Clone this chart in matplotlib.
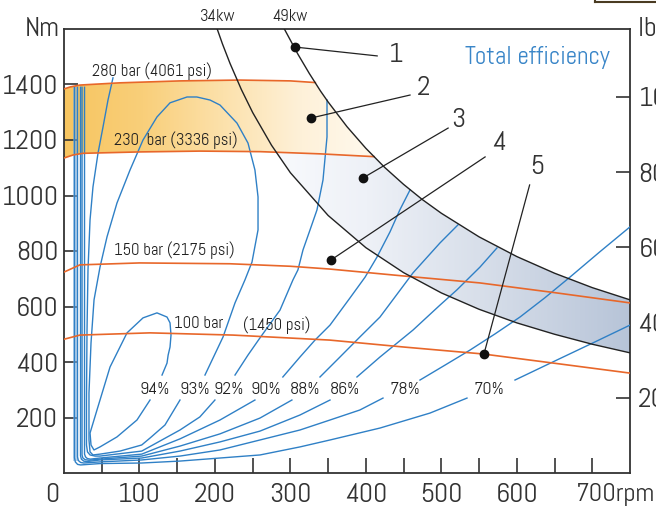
import numpy as np
import matplotlib
matplotlib.use("Agg")
import matplotlib.pyplot as plt
from matplotlib.colors import LinearSegmentedColormap
from matplotlib.lines import Line2D

plt.rcParams['font.family'] = ['Abel', 'Roboto Condensed', 'DejaVu Sans']

# pressure lines (rpm, Nm)
bar280 = [(0, 1384), (8, 1391), (21, 1398), (74, 1406), (154, 1413), (233, 1416), (300, 1413), (333, 1407)]
bar230 = [(0, 1135), (12, 1146), (25, 1152), (100, 1157), (180, 1160), (260, 1158), (340, 1150), (411, 1140)]
bar150 = [(0, 724), (21, 750), (100, 757), (220, 754), (300, 745), (352, 735), (450, 710), (551, 685), (650, 650), (750, 613)]
bar100 = [(0, 482), (21, 497), (114, 505), (224, 497), (352, 479), (450, 454), (555, 429), (657, 393), (750, 360)]

# constant power curves
kw34_rpm = [203, 210, 220, 235, 250, 275, 300, 350, 400, 450, 500, 550, 600, 650, 700, 750]
kw34_nm = [1600, 1546, 1476, 1382, 1299, 1181, 1082, 928, 812, 722, 649, 590, 541, 500, 464, 433]
kw49_rpm = [292, 310, 325, 340, 350, 375, 400, 425, 450, 475, 500, 550, 600, 650, 700, 750]
kw49_nm = [1600, 1509, 1440, 1376, 1337, 1248, 1170, 1101, 1040, 985, 936, 851, 780, 720, 668, 624]

# total efficiency contours (rpm, Nm); the label splits each line in two parts
eff94 = [(114, 263), (96.7, 191), (70.2, 130), (47.7, 94), (39.7, 83), (35.8, 101), (34.5, 144),
         (43.7, 227), (61, 382), (83.5, 505), (104.7, 559), (123.2, 577), (136.5, 562),
         (140.5, 541), (141.8, 497), (140.5, 454), (138, 425), (136.5, 396), (129.9, 353)]
eff93 = [(153.7, 263), (133.8, 173), (114, 126), (103, 101), (74.2, 79), (47.7, 68), (38.4, 65),
         (34.5, 76), (33.1, 119), (33.1, 288), (35.8, 469), (39.8, 624), (47.7, 742), (57, 851),
         (70.2, 973), (87.5, 1092), (104.7, 1200), (123.2, 1283), (140.5, 1334), (163, 1355),
         (176, 1355), (193.5, 1344), (206.7, 1326), (229.2, 1261), (243.8, 1189), (253, 1092),
         (257.1, 995), (257.1, 876), (249.1, 760), (239.8, 696), (226.6, 613), (210.7, 490), (186.8, 353)]
eff92_low = [(64.9, 1424), (58.3, 1344), (51.7, 1247), (45.1, 1153), (38.4, 1031), (34.5, 912),
             (31.8, 732), (30.5, 515), (29.8, 263), (29.8, 101), (31.1, 76), (34.5, 65), (41.1, 61),
             (47.7, 61), (103, 79), (153.7, 155), (180, 202), (200, 263)]
eff92_up = [(226.6, 353), (243.8, 425), (259.7, 487), (286.2, 587), (303.4, 696), (310, 732),
            (316.7, 804), (326, 876), (335.2, 948), (343.2, 1056), (348.5, 1211), (348.5, 1344)]
eff90_low = [(27.2, 1390), (27.2, 68), (28.5, 58), (31, 52), (35, 50), (47.7, 54), (103, 68),
             (153.7, 123), (206.7, 191), (253, 263)]
eff90_up = [(290, 346), (312.7, 418), (332.6, 479), (352.5, 533), (379, 631), (399, 706),
            (414.7, 778), (432, 869), (445, 948), (458.5, 1020)]
eff88_low = [(23.9, 1390), (23.9, 65), (25, 54), (28, 48), (33, 46), (47.7, 50), (103, 61),
             (153.7, 97), (206.7, 141), (259.7, 198), (302, 263)]
eff88_up = [(339.2, 346), (365.7, 418), (392, 490), (418.7, 562), (462.4, 721), (498.2, 829), (522, 894)]
eff86_low = [(21.9, 1390), (21.9, 62), (23, 50), (26, 43), (30, 41), (47.7, 47), (103, 54),
             (153.7, 79), (206.7, 112), (259.7, 151), (312.7, 209), (352.5, 263)]
eff86_up = [(388.2, 346), (418.7, 418), (462.4, 515), (498.2, 605), (520.7, 660), (551.2, 742), (573.7, 811)]
eff78_low = [(17.9, 1390), (17.9, 58), (19, 45), (22, 38), (26, 36), (47.7, 40), (103, 47),
             (153.7, 61), (206.7, 83), (259.7, 119), (312.7, 155), (352.5, 191), (392, 227), (422.7, 270)]
eff78_up = [(471.7, 335), (505, 389), (538, 443), (571, 501), (604.2, 562), (637, 631),
            (670.5, 706), (710, 797), (750, 887)]
eff70_low = [(13.9, 1390), (13.9, 55), (15, 40), (18, 31), (22, 29), (47.7, 34), (103, 36),
             (153.7, 43), (206.7, 54), (259.7, 65), (312.7, 94), (352.5, 119), (418.7, 162),
             (485, 216), (534, 270)]
eff70_up = [(597.6, 335), (653, 407), (701, 469), (750, 533)]

pct_labels = ["94%", "93%", "92%", "90%", "88%", "86%", "78%", "70%"]
pct_rpm = [120.6, 173.6, 218.6, 267.7, 319, 372, 452, 563]
pct_nm = 300

bar_labels = ["280 bar (4061 psi)", "230  bar (3336 psi)", "150 bar (2175 psi)", "100 bar", "(1450 psi)"]
bar_label_xy = [(117, 1449), (148, 1200), (146, 804), (178, 537), (282, 533)]

callout_nums = ["1", "2", "3", "4", "5"]
callout_dot = [(306, 1535), (327, 1279), (396, 1063), (354, 768), (556.5, 429)]
callout_end = [(415, 1503), (458.5, 1362), (509, 1243), (558, 1139), (617, 1038)]
callout_txt = [(440, 1506), (476, 1388), (523, 1272), (576, 1189), (627, 1103)]

y_ticks = [200, 400, 600, 800, 1000, 1200, 1400]
lbft_ticks = [200, 400, 600, 800, 1000]
NM_TO_LBFT = 0.7376

BLUE = '#2f80c6'
ORANGE = '#e8672a'
INK = '#333333'


def xy(points):
    a = np.array(points, float)
    return a[:, 0], a[:, 1]


fig = plt.figure(figsize=(6.56, 5.08), dpi=100)
ax = fig.add_axes([64 / 656, 35 / 508, 566 / 656, 444 / 508])

# orange band between 280 and 230 bar, cut by the 49 kW curve
xs = np.linspace(0, 420, 400)
top = np.minimum(np.interp(xs, *xy(bar280)), np.interp(xs, kw49_rpm, kw49_nm, left=5000))
bot = np.interp(xs, *xy(bar230))
band = ax.fill_between(xs, bot, top, where=top >= bot, interpolate=True,
                       facecolor='none', edgecolor='none')
orange_cmap = LinearSegmentedColormap.from_list(
    'o', [(0, '#f7c560'), (0.25, '#f9cf7a'), (0.5, '#fce1ab'), (0.75, '#fef1d9'), (1, '#fffaf0')])
im = ax.imshow(np.linspace(0, 1, 256).reshape(1, -1), extent=[0, 420, 1100, 1450],
               aspect='auto', cmap=orange_cmap, origin='lower', zorder=1)
im.set_clip_path(band.get_paths()[0], transform=ax.transData)

# blue band between the two power curves, below 230 bar
xs2 = np.linspace(250, 750, 500)
top2 = np.minimum(np.interp(xs2, kw49_rpm, kw49_nm), np.interp(xs2, *xy(bar230)))
bot2 = np.interp(xs2, kw34_rpm, kw34_nm)
band2 = ax.fill_between(xs2, bot2, top2, where=top2 >= bot2, interpolate=True,
                        facecolor='none', edgecolor='none')
blue_cmap = LinearSegmentedColormap.from_list(
    'b', [(0, '#fbfcfe'), (0.3, '#eef1f7'), (0.6, '#d8dfea'), (1, '#b7c4d8')])
im2 = ax.imshow(np.linspace(0, 1, 256).reshape(1, -1), extent=[250, 750, 380, 1200],
                aspect='auto', cmap=blue_cmap, origin='lower', zorder=1)
im2.set_clip_path(band2.get_paths()[0], transform=ax.transData)

# light blue bundle at the left
ax.fill_betweenx([45, 1390], 12.0, 18.5, color='#7fb0de', alpha=0.55, lw=0, zorder=2)

# efficiency lines
for seg in [eff94, eff93, eff92_low, eff92_up, eff90_low, eff90_up, eff88_low, eff88_up,
            eff86_low, eff86_up, eff78_low, eff78_up, eff70_low, eff70_up]:
    ax.plot(*xy(seg), color=BLUE, lw=1.0, zorder=3, solid_joinstyle='round')

# pressure lines
for seg in [bar280, bar230, bar150, bar100]:
    ax.plot(*xy(seg), color=ORANGE, lw=1.2, zorder=4)

# power curves
ax.plot(kw34_rpm, kw34_nm, color='#222222', lw=1.0, zorder=5)
ax.plot(kw49_rpm, kw49_nm, color='#222222', lw=1.0, zorder=5)
kx = ax.get_xaxis_transform()
ax.text(203, 1.028, '34kw', transform=kx, ha='center', va='center', fontsize=12, color='#222222')
ax.text(299, 1.028, '49kw', transform=kx, ha='center', va='center', fontsize=12, color='#222222')

# labels
for lab, r in zip(pct_labels, pct_rpm):
    ax.text(r, pct_nm, lab, ha='center', va='center', fontsize=13, color='#222222', zorder=6)
for lab, (r, t) in zip(bar_labels, bar_label_xy):
    ax.text(r, t, lab, ha='center', va='center', fontsize=12, color='#222222', zorder=6)

# callouts
for n, d, e, t in zip(callout_nums, callout_dot, callout_end, callout_txt):
    ax.plot([d[0], e[0]], [d[1], e[1]], color='#222222', lw=0.9, zorder=7)
    ax.plot(*d, 'o', color='#111111', ms=6, zorder=8)
    ax.text(*t, n, ha='center', va='center', fontsize=20, color='#333333', zorder=8)

ax.text(627, 1499, 'Total efficiency', ha='center', va='center', fontsize=18, color='#3a86c8')

# axes
ax.set_xlim(0, 750)
ax.set_ylim(0, 1600)
for s in ax.spines.values():
    s.set_color(INK)
    s.set_linewidth(1.3)

ax.set_yticks(y_ticks)
ax.set_yticklabels([str(v) for v in y_ticks])
ax.tick_params(axis='y', direction='in', length=10, width=1.2, colors=INK, labelsize=20, pad=4)

xt = list(range(50, 750, 50))
ax.set_xticks(xt)
ax.set_xticklabels([str(v) if v % 100 == 0 and v < 700 else '' for v in xt])
ax.tick_params(axis='x', direction='in', length=11, width=1.2, colors=INK, labelsize=20, pad=7)
ax.text(-15, -0.022, '0', transform=kx, ha='center', va='top', fontsize=20, color=INK)
ax.text(678, -0.022, '700rpm', transform=kx, ha='left', va='top', fontsize=19, color=INK)

ax.text(-0.007, 1.0, 'Nm', transform=ax.transAxes, ha='right', va='center', fontsize=20, color=INK)
ax.text(1.014, 1.0, 'lbf ft', transform=ax.transAxes, ha='left', va='center', fontsize=20, color=INK)

sec = ax.secondary_yaxis('right', functions=(lambda t: t * NM_TO_LBFT, lambda v: v / NM_TO_LBFT))
sec.set_yticks(lbft_ticks)
sec.tick_params(direction='in', length=10, width=1.2, colors=INK, labelsize=20, pad=6)
sec.spines['right'].set_visible(False)

# frame of the box above the picture, top right
fig.add_artist(Line2D([595 / 656, 1], [1 - 1.5 / 508] * 2, transform=fig.transFigure, color='#4a3b22', lw=1.5))
fig.add_artist(Line2D([595 / 656] * 2, [1 - 1.5 / 508, 1], transform=fig.transFigure, color='#4a3b22', lw=1.5))

fig.savefig('out.png', dpi=100)
